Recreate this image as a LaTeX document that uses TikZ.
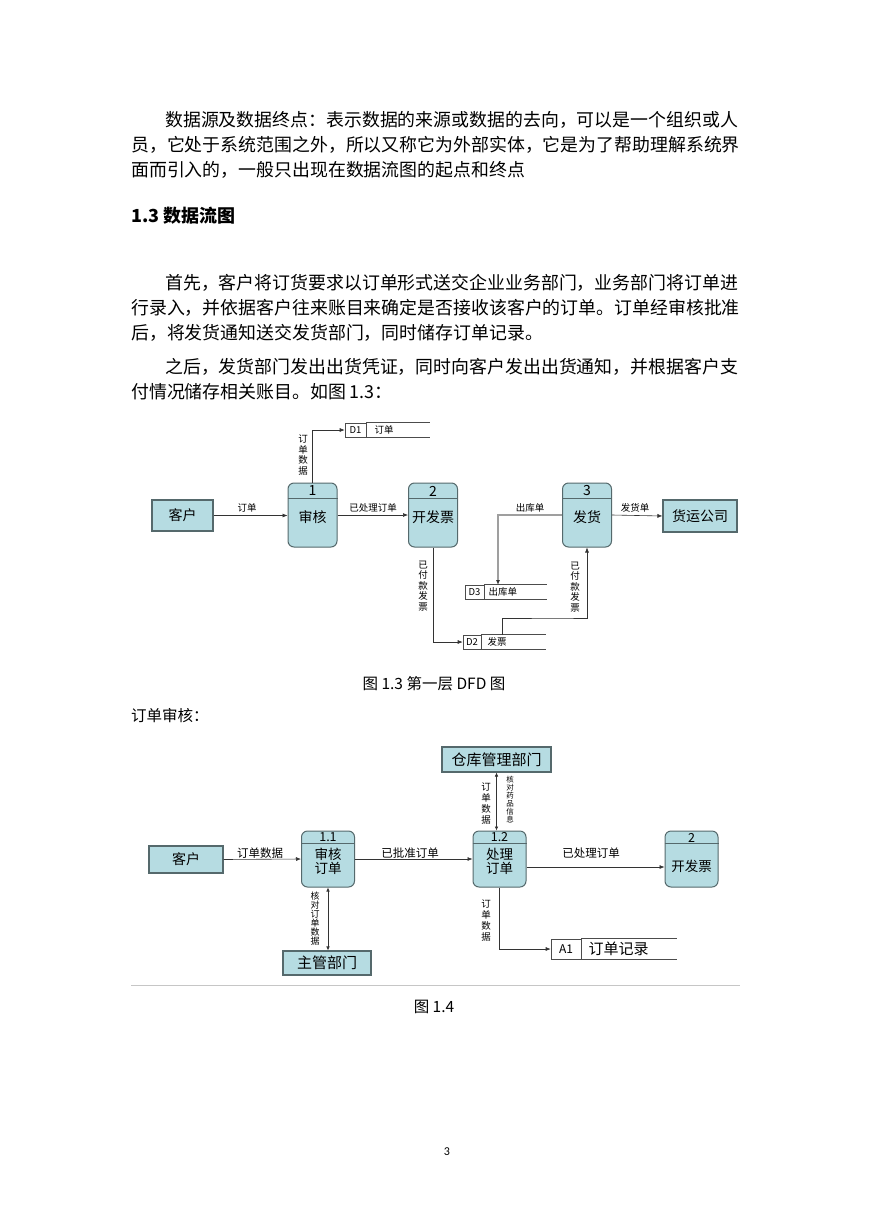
\documentclass[tikz,border=0pt]{standalone}
\usepackage{fontspec}
\setmainfont{Noto Sans CJK SC}
\newfontfamily\seitenzahl{Carlito}
\usetikzlibrary{arrows.meta}
\definecolor{kasten}{HTML}{B6DCE2}
\definecolor{rand}{HTML}{55696C}

\begin{document}
\begin{tikzpicture}[x=1pt, y=-1pt,
	zeile/.style={anchor=west, inner sep=0, font=\fontsize{17.9}{20}\selectfont},
	ent/.style={draw=rand, fill=kasten, line width=1.1pt, inner sep=0, font=\fontsize{14}{14}\selectfont},
	proc/.style={draw=rand, fill=kasten, line width=1pt, rounded corners=6pt, inner sep=0},
	ptext/.style={inner sep=0, align=center, font=\fontsize{14}{14}\selectfont},
	idbox/.style={draw=black!70, line width=0.6pt, inner sep=0, font=\fontsize{9.5}{10}\selectfont},
	lbl/.style={inner sep=0, font=\fontsize{9.5}{10}\selectfont},
	vlbl/.style={inner sep=0, align=center, font=\fontsize{9.5}{10.5}\selectfont},
	flow/.style={draw=black!80, line width=0.6pt, -{Latex[length=5pt,width=4pt]}},
	bflow/.style={draw=black!80, line width=0.6pt, {Latex[length=4pt,width=3.5pt]}-{Latex[length=4pt,width=3.5pt]}},
	store/.style={draw=black!70, line width=0.6pt}]
	\useasboundingbox[fill=white] (0,0) rectangle (869,1228); % ganze Seite

	% Text oben
	\node[zeile] (t1) at (165,120) {数据源及数据终点：表示数据的来源或数据的去向，可以是一个组织或人};
	\node[zeile] (t2) at (131,145) {员，它处于系统范围之外，所以又称它为外部实体，它是为了帮助理解系统界};
	\node[zeile] (t3) at (131,170) {面而引入的，一般只出现在数据流图的起点和终点};
	\node[zeile, font=\fontsize{18}{20}\selectfont\bfseries] (h1) at (131,216) {1.3 数据流图};
	\node[zeile] (t4) at (165,283) {首先，客户将订货要求以订单形式送交企业业务部门，业务部门将订单进};
	\node[zeile] (t5) at (131,308) {行录入，并依据客户往来账目来确定是否接收该客户的订单。订单经审核批准};
	\node[zeile] (t6) at (131,333) {后，将发货通知送交发货部门，同时储存订单记录。};
	\node[zeile] (t7) at (165,367) {之后，发货部门发出出货凭证，同时向客户发出出货通知，并根据客户支};
	\node[zeile] (t8) at (131,392) {付情况储存相关账目。如图 1.3：};

	% Bild 1.3
	\node[ent, minimum width=61pt, minimum height=31pt] (kunde1) at (182.5,515.5) {客户};
	\node[ent, minimum width=74pt, minimum height=32pt] (fracht) at (700,516) {货运公司};
	\foreach \n/\x/\nr/\txt in {p1/312.5/1/审核, p2/433/2/开发票, p3/587/3/发货} {
		\node[proc, minimum width=49pt, minimum height=64pt] (\n) at (\x,515) {};
		\draw[rand, line width=0.8pt] ([yshift=-16pt]\n.north west) -- ([yshift=-16pt]\n.north east);
		\node[ptext] (\n nr) at ([yshift=-8.5pt]\n.north) {\nr};
		\node[ptext] (\n txt) at ([yshift=-2pt]\n.center) {\txt};
	}

	% Datenspeicher
	\node[idbox, minimum width=21pt, minimum height=14pt] (d1) at (355.5,430) {D1};
	\draw[store] (d1.north east) -- ++(64,0) (d1.south east) -- ++(64,0);
	\node[lbl, anchor=west] (d1t) at ([xshift=8pt]d1.east) {订单};
	\node[idbox, minimum width=18pt, minimum height=14pt] (d2) at (472,642) {D2};
	\draw[store] (d2.north east) -- ++(65,0) (d2.south east) -- ++(65,0);
	\node[lbl, anchor=west] (d2t) at ([xshift=6pt]d2.east) {发票};
	\node[idbox, minimum width=19pt, minimum height=14pt] (d3) at (474.5,592) {D3};
	\draw[store] (d3.north east) -- ++(63,0) (d3.south east) -- ++(63,0);
	\node[lbl, anchor=west] (d3t) at ([xshift=4pt]d3.east) {出库单};
	\coordinate (d2o) at (502,635);
	\coordinate (d3i) at (498,585);

	% Datenfluesse
	\draw[flow] (kunde1.east) -- (kunde1.east -| p1.west);
	\node[lbl] (l1) at (247,508) {订单};
	\draw[flow] (p1.north) |- (d1.west);
	\node[vlbl] (l2) at (303,455) {订\\单\\数\\据};
	\draw[flow] (p1.east) -- (p2.west);
	\node[lbl] (l3) at (373,508) {已处理订单};
	\draw[flow] (p2.south) |- (d2.west);
	\node[vlbl] (l4) at (423,586) {已\\付\\款\\发\\票};
	\draw[flow] (d2o) |- (560,618) -| (p3.south);
	\node[vlbl] (l5) at (575,587) {已\\付\\款\\发\\票};
	\draw[draw=gray!75, line width=2pt, -{Latex[length=5pt,width=4pt,color=black!80]}] (p3.west) -| (d3i);
	\node[lbl] (l6) at (530,508) {出库单};
	\draw[flow] (p3.east) -- (fracht.west);
	\node[lbl] (l7) at (635,508) {发货单};

	\node[inner sep=0, font=\fontsize{15.5}{16}\selectfont] (cap1) at (434,684) {图 1.3 第一层 DFD 图};
	\node[zeile, font=\fontsize{15.5}{16}\selectfont] (t9) at (131,716) {订单审核：};

	% Bild 1.4
	\node[ent, minimum width=74pt, minimum height=27pt] (kunde2) at (186,859.5) {客户};
	\node[ent, minimum width=109pt, minimum height=25pt, font=\fontsize{15}{15}\selectfont] (lager) at (496.5,759.5) {仓库管理部门};
	\node[ent, minimum width=88pt, minimum height=24pt, font=\fontsize{15}{15}\selectfont] (chef) at (327,963) {主管部门};
	\foreach \n/\x/\nr/\txt/\ty in {q11/328/1.1/审核\\订单/-2.5, q12/499.5/1.2/处理\\订单/-2.5, q2/691.5/2/开发票/-7} {
		\node[proc, minimum width=53pt, minimum height=56pt] (\n) at (\x,859) {};
		\draw[rand, line width=0.8pt] ([yshift=-13pt]\n.north west) -- ([yshift=-13pt]\n.north east);
		\node[ptext, font=\fontsize{12.5}{12.5}\selectfont] (\n nr) at ([yshift=-7pt]\n.north) {\nr};
		\node[ptext, font=\fontsize{13.5}{14}\selectfont] (\n txt) at ([yshift=\ty pt]\n.center) {\txt};
	}
	\node[idbox, minimum width=30pt, minimum height=20pt, font=\fontsize{12}{12}\selectfont] (a1) at (566,949) {A1};
	\draw[store] (a1.north east) -- ++(96,0) (a1.south east) -- ++(96,0);
	\node[lbl, anchor=west, font=\fontsize{15}{15}\selectfont] (a1t) at ([xshift=7pt]a1.east) {订单记录};

	\draw[flow] (kunde2.east) -- (q11.west);
	\node[lbl, font=\fontsize{11.5}{12}\selectfont] (m1) at (260,853) {订单数据};
	\draw[flow] (q11.east) -- (q12.west);
	\node[lbl, font=\fontsize{11.5}{12}\selectfont] (m2) at (410,853) {已批准订单};
	\draw[flow] ([yshift=-8pt]q12.east) -- ([yshift=-8pt]q2.west);
	\node[lbl, font=\fontsize{11.5}{12}\selectfont] (m3) at (591,853) {已处理订单};
	\draw[bflow] (q12.north -| lager.south) -- (lager.south);
	\node[vlbl, font=\fontsize{9.5}{11}\selectfont] (m4) at (486,803) {订\\单\\数\\据};
	\node[vlbl, font=\fontsize{7.5}{8}\selectfont] (m5) at (510,800) {核\\对\\药\\品\\信\\息};
	\draw[bflow] (q11.south) -- (chef.north -| q11.south);
	\node[vlbl, font=\fontsize{9}{9}\selectfont] (m6) at (315,919) {核\\对\\订\\单\\数\\据};
	\draw[flow] (q12.south) |- (a1.west);
	\node[vlbl, font=\fontsize{9.5}{11}\selectfont] (m7) at (486,920) {订\\单\\数\\据};

	\draw[gray!45, line width=1pt] (131,985) -- (740,985);
	\node[inner sep=0, font=\fontsize{15.5}{16}\selectfont] (cap2) at (434,1007) {图 1.4};
	\node[inner sep=0, font=\seitenzahl\fontsize{12}{12}\selectfont] (seite) at (447,1152) {3};

	%\draw[help lines, step=50] (0,0) grid (869,1228);
\end{tikzpicture}
\end{document}
